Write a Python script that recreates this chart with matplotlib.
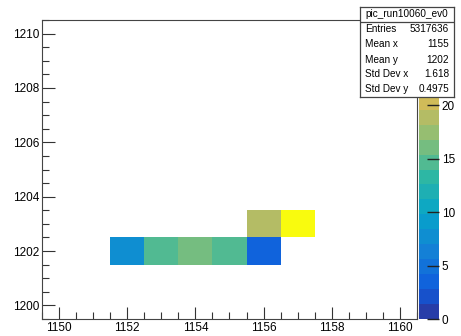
import matplotlib
matplotlib.use("Agg")
import matplotlib.pyplot as plt
import numpy as np
from matplotlib.colors import LinearSegmentedColormap, ListedColormap, BoundaryNorm
from matplotlib.ticker import MultipleLocator

plt.rcParams['font.family'] = ['Liberation Sans', 'DejaVu Sans']

# filled bins (bin centres) and their contents
bin_x = [1152, 1153, 1154, 1155, 1156, 1156, 1157]
bin_y = [1202, 1202, 1202, 1202, 1202, 1203, 1203]
counts = [8, 15, 16, 15, 4, 19.5, 28]

x_range = (1149.5, 1160.5)
y_range = (1199.5, 1210.5)
z_max = 28
n_contours = 20

stats_title = "pic_run10060_ev0"
stats_names = ["Entries", "Mean x", "Mean y", "Std Dev x", "Std Dev y"]
stats_values = ["5317636", "1155", "1202", "1.618", "0.4975"]

# ROOT kBird palette
stops = [0.0, 0.125, 0.25, 0.375, 0.5, 0.625, 0.75, 0.875, 1.0]
red = [0.2082, 0.0592, 0.0780, 0.0232, 0.1802, 0.5301, 0.8186, 0.9956, 0.9764]
green = [0.1664, 0.3599, 0.5041, 0.6419, 0.7178, 0.7492, 0.7328, 0.7862, 0.9832]
blue = [0.5293, 0.8684, 0.8385, 0.7914, 0.6425, 0.4662, 0.3499, 0.1968, 0.0539]
bird = LinearSegmentedColormap.from_list(
    "bird", [(s, (r, g, b)) for s, r, g, b in zip(stops, red, green, blue)])
cmap = ListedColormap([bird((i + 0.99) / n_contours) for i in range(n_contours)])
levels = np.linspace(0, z_max, n_contours + 1)
norm = BoundaryNorm(levels, cmap.N)

xe = np.arange(x_range[0], x_range[1] + 0.5, 1.0)
ye = np.arange(y_range[0], y_range[1] + 0.5, 1.0)
grid = np.zeros((len(ye) - 1, len(xe) - 1))
for bx, by, c in zip(bin_x, bin_y, counts):
    grid[int(by - y_range[0]), int(bx - x_range[0])] = min(c, z_max - 1e-6)
grid = np.ma.masked_equal(grid, 0)

fig = plt.figure(figsize=(4.61, 3.36), dpi=100)
ax = fig.add_axes([42 / 461, 17 / 336, 375 / 461, 299 / 336])
mesh = ax.pcolormesh(xe, ye, grid, cmap=cmap, norm=norm)
ax.set_xlim(*x_range)
ax.set_ylim(*y_range)

for sp in ax.spines.values():
    sp.set_color("#444444")
    sp.set_linewidth(0.8)
ax.xaxis.set_major_locator(MultipleLocator(2))
ax.xaxis.set_minor_locator(MultipleLocator(0.5))
ax.yaxis.set_major_locator(MultipleLocator(2))
ax.yaxis.set_minor_locator(MultipleLocator(0.5))
ax.tick_params(which="both", direction="in", color="#333333", width=0.8,
               labelsize=8.5, top=False, right=False)
ax.tick_params(which="major", length=9, pad=2)
ax.tick_params(which="minor", length=5)

# colour bar
cax = fig.add_axes([419 / 461, 17 / 336, 20 / 461, 299 / 336])
cb = fig.colorbar(mesh, cax=cax, ticks=[0, 5, 10, 15, 20])
cb.outline.set_visible(False)
cax.tick_params(direction="in", length=9, width=1.0, color="#222222",
                labelsize=8.5, pad=2)
cax.tick_params(which="minor", length=0)

# stats box
sax = fig.add_axes([360 / 461, 1 - 97 / 336, 94 / 461, 90 / 336])
sax.set_xlim(0, 1)
sax.set_ylim(0, 1)
sax.set_xticks([])
sax.set_yticks([])
sax.set_facecolor("white")
for sp in sax.spines.values():
    sp.set_color("#444444")
    sp.set_linewidth(0.9)
sax.axhline(0.833, color="#444444", lw=0.9)
sax.text(0.5, 0.917, stats_title, ha="center", va="center", fontsize=7.2)
row_y = [0.756, 0.589, 0.411, 0.256, 0.089]
for yy, name, val in zip(row_y, stats_names, stats_values):
    sax.text(0.053, yy, name, ha="left", va="center", fontsize=7.2)
    sax.text(0.947, yy, val, ha="right", va="center", fontsize=7.2)

fig.savefig("out.png", dpi=100)
